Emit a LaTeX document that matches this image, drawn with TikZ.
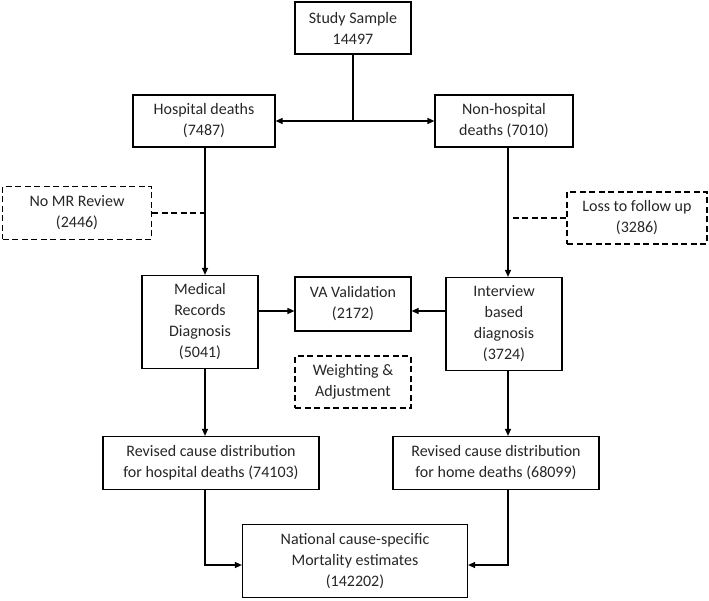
\documentclass[tikz,border=0pt]{standalone}
\usepackage{fontspec}
\setmainfont{Carlito}
\usetikzlibrary{arrows.meta}
\tikzset{
  box/.style={draw, line width=1.2pt, align=center, inner sep=2pt,
    font=\fontsize{16}{21}\selectfont, text=black!85},
  dashbox/.style={box, dash pattern=on 6pt off 3.5pt},
  arr/.style={-{Triangle[length=7pt,width=6pt]}, line width=1.2pt},
  link/.style={line width=1.2pt},
  dashlink/.style={line width=1.2pt, dash pattern=on 6pt off 3.5pt}
}

\begin{document}
\begin{tikzpicture}[x=1pt, y=-1pt]
  \useasboundingbox (0,0) rectangle (709,601);

  \node[box, minimum width=116pt, minimum height=52pt] (study) at (353,28) {Study Sample\\14497};
  \node[box, minimum width=142pt, minimum height=52pt] (hosp) at (204,121) {Hospital deaths\\(7487)};
  \node[box, minimum width=138pt, minimum height=52pt] (nonhosp) at (504,121) {Non-hospital\\deaths (7010)};
  \node[dashbox, minimum width=149pt, minimum height=53pt] (nomr) at (77,213) {No MR Review\\(2446)};
  \node[dashbox, minimum width=140pt, minimum height=52pt] (loss) at (637,218) {Loss to follow up\\(3286)};
  \node[box, minimum width=116pt, minimum height=93pt] (med) at (200,322) {Medical\\Records\\Diagnosis\\(5041)};
  \node[box, minimum width=116pt, minimum height=54pt] (va) at (353,304) {VA Validation\\(2172)};
  \node[box, minimum width=116pt, minimum height=93pt] (interview) at (504,324) {Interview\\based\\diagnosis\\(3724)};
  \node[dashbox, minimum width=116pt, minimum height=52pt] (weight) at (353,382) {Weighting \&\\Adjustment};
  \node[box, minimum width=216pt, minimum height=53pt] (revhosp) at (211,463) {Revised cause distribution\\for hospital deaths (74103)};
  \node[box, minimum width=206pt, minimum height=53pt] (revhome) at (496,463) {Revised cause distribution\\for home deaths (68099)};
  \node[box, minimum width=225pt, minimum height=73pt] (national) at (355,561) {National cause-specific\\Mortality estimates\\(142202)};

  % columns of the two branches
  \coordinate (lx) at (205,0);
  \coordinate (rx) at (508,0);
  \coordinate (split) at (study.south |- hosp);

  \draw[link] (study) -- (split);
  \draw[arr] (split) -- (hosp);
  \draw[arr] (split) -- (nonhosp);

  \draw[arr] (lx |- hosp.south) -- (lx |- med.north);
  \draw[arr] (rx |- nonhosp.south) -- (rx |- interview.north);
  \draw[dashlink] (nomr) -- (nomr -| lx);
  \draw[dashlink] (loss) -- (loss -| rx);

  \coordinate (vain) at ([yshift=-7pt]va.center);
  \draw[arr] (med.east |- vain) -- (va.west |- vain);
  \draw[arr] (interview.west |- vain) -- (va.east |- vain);

  \draw[arr] (lx |- med.south) -- (lx |- revhosp.north);
  \draw[arr] (rx |- interview.south) -- (rx |- revhome.north);
  \draw[arr] (lx |- revhosp.south) |- ([yshift=-4pt]national.west);
  \draw[arr] (rx |- revhome.south) |- ([yshift=-4pt]national.east);
\end{tikzpicture}
\end{document}
